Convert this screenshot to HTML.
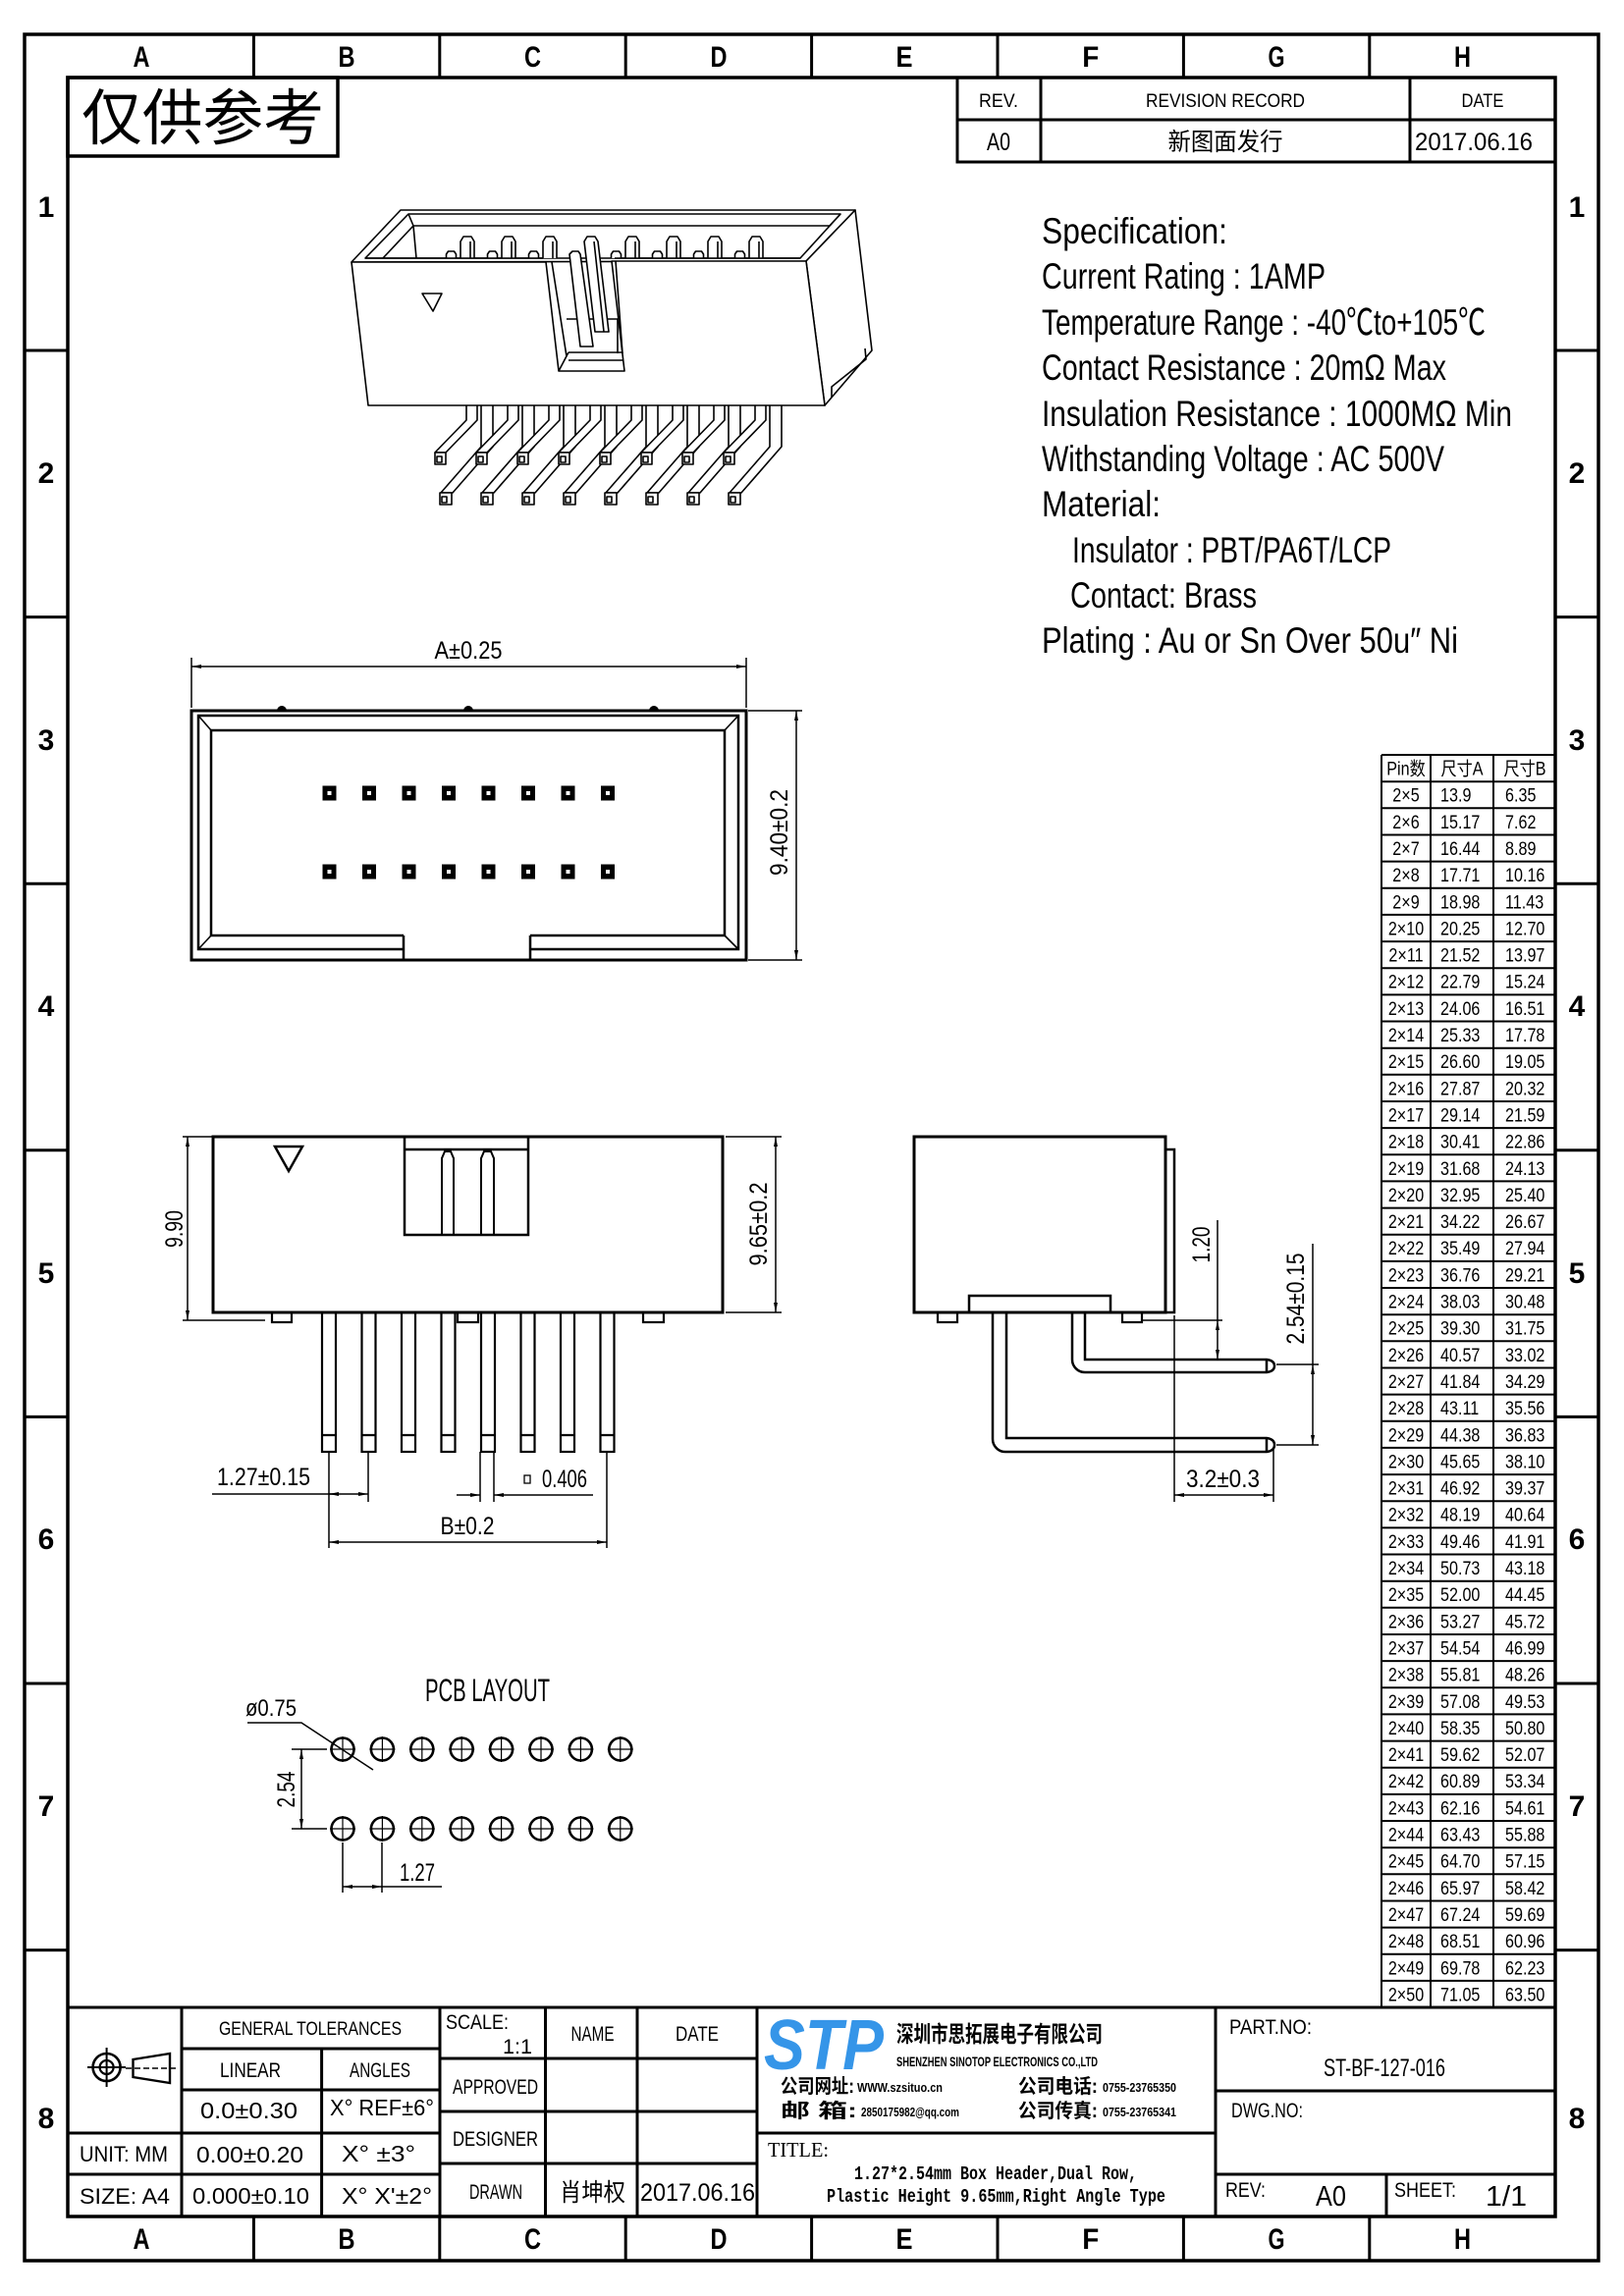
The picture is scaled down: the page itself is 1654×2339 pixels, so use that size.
<!DOCTYPE html>
<html><head><meta charset="utf-8"><style>
html,body{margin:0;padding:0;background:#fff;}
svg{display:block;}
text{font-family:"Liberation Sans","Noto Sans CJK SC",sans-serif;fill:#000;}
.cj{font-family:"Liberation Sans","Noto Sans CJK SC",sans-serif;}
.sf{font-family:"Liberation Serif","Noto Serif CJK SC",serif;}
.mo{font-family:"Liberation Mono",monospace;font-weight:bold;}
</style></head><body>
<svg width="1654" height="2339" viewBox="0 0 1654 2339" xmlns="http://www.w3.org/2000/svg">
<defs>
<marker id="ar" viewBox="0 0 10 4" refX="10" refY="2" markerWidth="10" markerHeight="4" orient="auto-start-reverse" markerUnits="userSpaceOnUse"><path d="M0,0 L10,2 L0,4 z" fill="#000"/></marker>
</defs>
<rect width="1654" height="2339" fill="#fff"/>

<!-- FRAME -->
<g fill="none" stroke="#000">
<rect x="25" y="35" width="1603" height="2268" stroke-width="3.5"/>
<rect x="69" y="79" width="1515" height="2179" stroke-width="3.5"/>
<path stroke-width="3" d="M258.4,35V79M447.8,35V79M637.2,35V79M826.6,35V79M1016,35V79M1205.4,35V79M1394.8,35V79
M258.4,2258V2303M447.8,2258V2303M637.2,2258V2303M826.6,2258V2303M1016,2258V2303M1205.4,2258V2303M1394.8,2258V2303
M25,357H69M25,628.6H69M25,900.2H69M25,1171.8H69M25,1443.4H69M25,1715H69M25,1986.6H69
M1584,357H1628M1584,628.6H1628M1584,900.2H1628M1584,1171.8H1628M1584,1443.4H1628M1584,1715H1628M1584,1986.6H1628"/>
</g>
<g font-size="30" font-weight="bold" text-anchor="middle">
<text x="144" y="68" textLength="17" lengthAdjust="spacingAndGlyphs">A</text>
<text x="353" y="68" textLength="17" lengthAdjust="spacingAndGlyphs">B</text>
<text x="542.5" y="68" textLength="17" lengthAdjust="spacingAndGlyphs">C</text>
<text x="732" y="68" textLength="17" lengthAdjust="spacingAndGlyphs">D</text>
<text x="921" y="68" textLength="17" lengthAdjust="spacingAndGlyphs">E</text>
<text x="1110.7" y="68" textLength="17" lengthAdjust="spacingAndGlyphs">F</text>
<text x="1300" y="68" textLength="17" lengthAdjust="spacingAndGlyphs">G</text>
<text x="1489.5" y="68" textLength="17" lengthAdjust="spacingAndGlyphs">H</text>
<text x="144" y="2291" textLength="17" lengthAdjust="spacingAndGlyphs">A</text>
<text x="353" y="2291" textLength="17" lengthAdjust="spacingAndGlyphs">B</text>
<text x="542.5" y="2291" textLength="17" lengthAdjust="spacingAndGlyphs">C</text>
<text x="732" y="2291" textLength="17" lengthAdjust="spacingAndGlyphs">D</text>
<text x="921" y="2291" textLength="17" lengthAdjust="spacingAndGlyphs">E</text>
<text x="1110.7" y="2291" textLength="17" lengthAdjust="spacingAndGlyphs">F</text>
<text x="1300" y="2291" textLength="17" lengthAdjust="spacingAndGlyphs">G</text>
<text x="1489.5" y="2291" textLength="17" lengthAdjust="spacingAndGlyphs">H</text>
<text x="47" y="221">1</text><text x="47" y="492">2</text><text x="47" y="764">3</text><text x="47" y="1035">4</text>
<text x="47" y="1307">5</text><text x="47" y="1578">6</text><text x="47" y="1850">7</text><text x="47" y="2168">8</text>
<text x="1606" y="221">1</text><text x="1606" y="492">2</text><text x="1606" y="764">3</text><text x="1606" y="1035">4</text>
<text x="1606" y="1307">5</text><text x="1606" y="1578">6</text><text x="1606" y="1850">7</text><text x="1606" y="2168">8</text>
</g>

<!-- 仅供参考 -->
<rect x="69" y="79" width="275" height="80" fill="none" stroke="#000" stroke-width="3.5"/>
<text x="83" y="142" font-size="62" textLength="247" lengthAdjust="spacingAndGlyphs">仅供参考</text>

<!-- REVISION TABLE -->
<g fill="none" stroke="#000" stroke-width="3">
<rect x="975" y="79" width="609" height="86"/>
<path d="M975,122H1584M1060,79V165M1436,79V165"/>
</g>
<g text-anchor="middle" class="sf">
<text x="1017" y="109" font-size="19" textLength="40" lengthAdjust="spacingAndGlyphs">REV.</text>
<text x="1248" y="109" font-size="19" textLength="162" lengthAdjust="spacingAndGlyphs">REVISION RECORD</text>
<text x="1510" y="109" font-size="19" textLength="43" lengthAdjust="spacingAndGlyphs">DATE</text>
<text x="1017" y="153" font-size="25" textLength="24" lengthAdjust="spacingAndGlyphs">A0</text>
<text x="1248" y="153" font-size="25" textLength="117" lengthAdjust="spacingAndGlyphs">新图面发行</text>
<text x="1501" y="153" font-size="25" textLength="120" lengthAdjust="spacingAndGlyphs">2017.06.16</text>
</g>

<!-- SPEC TEXT -->
<g font-size="37" class="sf">
<text x="1061" y="248" textLength="189" lengthAdjust="spacingAndGlyphs">Specification:</text>
<text x="1061" y="294" textLength="289" lengthAdjust="spacingAndGlyphs">Current Rating : 1AMP</text>
<text x="1061" y="341" textLength="452" lengthAdjust="spacingAndGlyphs">Temperature Range : -40℃to+105℃</text>
<text x="1061" y="387" textLength="412" lengthAdjust="spacingAndGlyphs">Contact Resistance : 20mΩ Max</text>
<text x="1061" y="434" textLength="479" lengthAdjust="spacingAndGlyphs">Insulation Resistance : 1000MΩ Min</text>
<text x="1061" y="480" textLength="410" lengthAdjust="spacingAndGlyphs">Withstanding Voltage : AC 500V</text>
<text x="1061" y="526" textLength="121" lengthAdjust="spacingAndGlyphs">Material:</text>
<text x="1092" y="573" textLength="325" lengthAdjust="spacingAndGlyphs">Insulator : PBT/PA6T/LCP</text>
<text x="1090" y="619" textLength="190" lengthAdjust="spacingAndGlyphs">Contact: Brass</text>
<text x="1061" y="665" textLength="424" lengthAdjust="spacingAndGlyphs">Plating : Au or Sn Over 50u″ Ni</text>
</g>

<!-- 3D VIEW -->
<g fill="#fff" stroke="#000" stroke-width="1.6" stroke-linejoin="round">
<!-- legs lower row -->
<g>
<path d="M490,413V455L449,502H461L502,455V413"/><rect x="448" y="502" width="12" height="12"/><rect x="450" y="506" width="5" height="6"/>
<path d="M532,413V455L491,502H503L544,455V413"/><rect x="490" y="502" width="12" height="12"/><rect x="492" y="506" width="5" height="6"/>
<path d="M574,413V455L533,502H545L586,455V413"/><rect x="532" y="502" width="12" height="12"/><rect x="534" y="506" width="5" height="6"/>
<path d="M616,413V455L575,502H587L628,455V413"/><rect x="574" y="502" width="12" height="12"/><rect x="576" y="506" width="5" height="6"/>
<path d="M658,413V455L617,502H629L670,455V413"/><rect x="616" y="502" width="12" height="12"/><rect x="618" y="506" width="5" height="6"/>
<path d="M700,413V455L659,502H671L712,455V413"/><rect x="658" y="502" width="12" height="12"/><rect x="660" y="506" width="5" height="6"/>
<path d="M742,413V455L701,502H713L754,455V413"/><rect x="700" y="502" width="12" height="12"/><rect x="702" y="506" width="5" height="6"/>
<path d="M784,413V455L743,502H755L796,455V413"/><rect x="742" y="502" width="12" height="12"/><rect x="744" y="506" width="5" height="6"/>
</g>
<!-- legs upper row -->
<g>
<path d="M475,413V428L443,461H454L486,428V413"/><rect x="443" y="461" width="11" height="12"/><rect x="445" y="465" width="5" height="6"/>
<path d="M517,413V428L485,461H496L528,428V413"/><rect x="485" y="461" width="11" height="12"/><rect x="487" y="465" width="5" height="6"/>
<path d="M559,413V428L527,461H538L570,428V413"/><rect x="527" y="461" width="11" height="12"/><rect x="529" y="465" width="5" height="6"/>
<path d="M601,413V428L569,461H580L612,428V413"/><rect x="569" y="461" width="11" height="12"/><rect x="571" y="465" width="5" height="6"/>
<path d="M643,413V428L611,461H622L654,428V413"/><rect x="611" y="461" width="11" height="12"/><rect x="613" y="465" width="5" height="6"/>
<path d="M685,413V428L653,461H664L696,428V413"/><rect x="653" y="461" width="11" height="12"/><rect x="655" y="465" width="5" height="6"/>
<path d="M727,413V428L695,461H706L738,428V413"/><rect x="695" y="461" width="11" height="12"/><rect x="697" y="465" width="5" height="6"/>
<path d="M769,413V428L737,461H748L780,428V413"/><rect x="737" y="461" width="11" height="12"/><rect x="739" y="465" width="5" height="6"/>
</g>
<!-- body -->
<polygon points="358,267 408,214 871,214 821,266"/>
<polygon points="821,266 871,214 888,357 840,413"/>
<polygon points="372,263 416,218 856,218 815,263"/>
<path fill="none" d="M421,230H845M416,218L421,230L424,263M390,263L421,230M845,230L856,218"/>
<!-- pins back row -->
<path d="M469,263V246L472,241H480L483,246V263"/>
<path d="M511,263V246L514,241H522L525,246V263"/>
<path d="M553,263V246L556,241H564L567,246V263"/>
<path d="M637,263V246L640,241H648L651,246V263"/>
<path d="M679,263V246L682,241H690L693,246V263"/>
<path d="M721,263V246L724,241H732L735,246V263"/>
<path d="M763,263V246L766,241H774L777,246V263"/>
<path fill="none" d="M479,246V263M521,246V263M563,246V263M647,246V263M689,246V263M731,246V263M773,246V263"/>
<!-- pins front row -->
<path d="M454.5,263V259L456.5,256H462.5L464.5,259V263"/>
<path d="M496.5,263V259L498.5,256H504.5L506.5,259V263"/>
<path d="M538.5,263V259L540.5,256H546.5L548.5,259V263"/>
<path d="M622.5,263V259L624.5,256H630.5L632.5,259V263"/>
<path d="M664.5,263V259L666.5,256H672.5L674.5,259V263"/>
<path d="M706.5,263V259L708.5,256H714.5L716.5,259V263"/>
<path d="M748.5,263V259L750.5,256H756.5L758.5,259V263"/>
<!-- front face with notch -->
<path d="M358,267H556L569,378H636L623,266H821L840,413H375Z"/>
<path fill="none" d="M372,263H553M626,263H815"/>
<!-- notch interior -->
<path fill="none" d="M562,267L577,363M577,325H629V360M579,359H634M579,367H634M569,378L579,359M627,266L634,360"/>
<!-- notch pins -->
<path d="M595,246L598,241H606L609,246L620,338H606Z"/>
<path fill="none" d="M605,246L615,338"/>
<path d="M580,259L583,256H589L591,259L604,353H591Z"/>
<!-- side slot -->
<path fill="none" d="M881,355L882,366L847,394V405"/>
<!-- triangle -->
<polygon points="430,299 450,299 441,317" fill="none"/>
</g>

<!-- FRONT VIEW -->
<g fill="none" stroke="#000">
<rect x="195" y="724" width="565" height="254" stroke-width="3"/>
<path stroke-width="2.5" d="M411,967H202V729H752V967H540M411,953H215V744H738V953H540M411,953V978M540,953V978"/>
<path stroke-width="1.6" d="M202,729L215,744M752,729L738,744M202,967L215,953M752,967L738,953"/>
<path stroke-width="1.5" d="M195,721V670M760,721V670M762,724H817M762,978H817"/>
<line x1="195" y1="679" x2="760" y2="679" stroke-width="1.5" marker-start="url(#ar)" marker-end="url(#ar)"/>
<line x1="811" y1="724" x2="811" y2="978" stroke-width="1.5" marker-start="url(#ar)" marker-end="url(#ar)"/>
</g>
<g fill="#000">
<path d="M282,724A5,5 0 0 1 292,724Z M472,724A5,5 0 0 1 482,724Z M661,724A5,5 0 0 1 671,724Z"/>
<rect x="328.5" y="800.5" width="14" height="15"/><rect x="369" y="800.5" width="14" height="15"/><rect x="409.5" y="800.5" width="14" height="15"/><rect x="450" y="800.5" width="14" height="15"/>
<rect x="490.5" y="800.5" width="14" height="15"/><rect x="531" y="800.5" width="14" height="15"/><rect x="571.5" y="800.5" width="14" height="15"/><rect x="612" y="800.5" width="14" height="15"/>
<rect x="328.5" y="880.5" width="14" height="15"/><rect x="369" y="880.5" width="14" height="15"/><rect x="409.5" y="880.5" width="14" height="15"/><rect x="450" y="880.5" width="14" height="15"/>
<rect x="490.5" y="880.5" width="14" height="15"/><rect x="531" y="880.5" width="14" height="15"/><rect x="571.5" y="880.5" width="14" height="15"/><rect x="612" y="880.5" width="14" height="15"/>
</g>
<g fill="#fff">
<rect x="333.5" y="806" width="4" height="4"/><rect x="374" y="806" width="4" height="4"/><rect x="414.5" y="806" width="4" height="4"/><rect x="455" y="806" width="4" height="4"/>
<rect x="495.5" y="806" width="4" height="4"/><rect x="536" y="806" width="4" height="4"/><rect x="576.5" y="806" width="4" height="4"/><rect x="617" y="806" width="4" height="4"/>
<rect x="333.5" y="886" width="4" height="4"/><rect x="374" y="886" width="4" height="4"/><rect x="414.5" y="886" width="4" height="4"/><rect x="455" y="886" width="4" height="4"/>
<rect x="495.5" y="886" width="4" height="4"/><rect x="536" y="886" width="4" height="4"/><rect x="576.5" y="886" width="4" height="4"/><rect x="617" y="886" width="4" height="4"/>
</g>
<g class="sf" font-size="25">
<text x="477" y="671" text-anchor="middle" textLength="69" lengthAdjust="spacingAndGlyphs">A±0.25</text>
<text transform="translate(802,848) rotate(-90)" text-anchor="middle" textLength="88" lengthAdjust="spacingAndGlyphs">9.40±0.2</text>
</g>

<!-- PIN SIDE VIEW -->
<g fill="none" stroke="#000">
<rect x="217" y="1158" width="519" height="179" stroke-width="3"/>
<path stroke-width="2.5" d="M412,1158V1258H538V1158M412,1171H538"/>
<path stroke-width="2" d="M450,1258V1180L453,1173H459L462,1180V1258M490,1258V1180L493,1173H500L503,1180V1258"/>
<polygon stroke-width="2.5" points="280,1168 308,1168 294,1193"/>
<g stroke-width="2.2">
<rect x="277" y="1337" width="20" height="10"/><rect x="466" y="1337" width="21" height="10"/><rect x="655" y="1337" width="21" height="10"/>
<rect x="328" y="1337" width="14" height="142"/><rect x="368.5" y="1337" width="14" height="142"/><rect x="409" y="1337" width="14" height="142"/><rect x="449.5" y="1337" width="14" height="142"/>
<rect x="490" y="1337" width="14" height="142"/><rect x="530.5" y="1337" width="14" height="142"/><rect x="571" y="1337" width="14" height="142"/><rect x="611.5" y="1337" width="14" height="142"/>
<path d="M328,1462H342M368.5,1462H382.5M409,1462H423M449.5,1462H463.5M490,1462H504M530.5,1462H544.5M571,1462H585M611.5,1462H625.5"/>
</g>
<g stroke-width="1.5">
<path d="M186,1158H217M186,1345H270M739,1158H796M739,1337H796M335,1479V1577M375,1479V1530M489,1479V1530M503,1479V1530M618,1479V1577M216,1522H345"/>
<line x1="191" y1="1158" x2="191" y2="1345" marker-start="url(#ar)" marker-end="url(#ar)"/>
<line x1="790" y1="1158" x2="790" y2="1337" marker-start="url(#ar)" marker-end="url(#ar)"/>
<line x1="355" y1="1522" x2="335" y2="1522" marker-end="url(#ar)"/>
<line x1="355" y1="1522" x2="375" y2="1522" marker-end="url(#ar)"/>
<line x1="465" y1="1523" x2="489" y2="1523" marker-end="url(#ar)"/>
<line x1="604" y1="1523" x2="503" y2="1523" marker-end="url(#ar)"/>
<line x1="335" y1="1571" x2="618" y2="1571" marker-start="url(#ar)" marker-end="url(#ar)"/>
</g>
<rect x="534" y="1503" width="6" height="8" stroke-width="1.3"/>
</g>
<g class="sf" font-size="25">
<text transform="translate(186,1252) rotate(-90)" text-anchor="middle" textLength="38" lengthAdjust="spacingAndGlyphs">9.90</text>
<text transform="translate(781,1247) rotate(-90)" text-anchor="middle" textLength="85" lengthAdjust="spacingAndGlyphs">9.65±0.2</text>
<text x="221" y="1513" textLength="95" lengthAdjust="spacingAndGlyphs">1.27±0.15</text>
<text x="552" y="1515" textLength="46" lengthAdjust="spacingAndGlyphs">0.406</text>
<text x="476" y="1563" text-anchor="middle" textLength="55" lengthAdjust="spacingAndGlyphs">B±0.2</text>
</g>

<!-- RIGHT ANGLE VIEW -->
<g fill="none" stroke="#000">
<rect x="931" y="1158" width="256" height="179" stroke-width="3"/>
<path stroke-width="2.5" d="M1187,1171H1196V1337H1187"/>
<rect x="987" y="1320" width="144" height="17" stroke-width="2.5"/>
<rect x="955" y="1337" width="20" height="10" stroke-width="2.2"/>
<rect x="1143" y="1337" width="20" height="10" stroke-width="2.2"/>
<path stroke-width="2.5" d="M1092,1337V1385A13,13 0 0 0 1105,1398H1290Q1298,1397 1298,1391.5Q1298,1386 1290,1385H1105V1337M1290,1385V1398"/>
<path stroke-width="2.5" d="M1011,1337V1466A13,13 0 0 0 1024,1479H1290Q1298,1478 1298,1472Q1298,1466 1290,1465H1025V1337M1290,1465V1479"/>
<g stroke-width="1.5">
<path d="M1196,1340V1530M1163,1345H1245M1240,1243V1345M1300,1390H1343M1300,1472H1343M1337,1267V1390M1297,1477V1530"/>
<line x1="1240" y1="1365" x2="1240" y2="1345" marker-end="url(#ar)"/>
<line x1="1240" y1="1365" x2="1240" y2="1385" marker-end="url(#ar)"/>
<line x1="1337" y1="1390" x2="1337" y2="1472" marker-start="url(#ar)" marker-end="url(#ar)"/>
<line x1="1196" y1="1523" x2="1297" y2="1523" marker-start="url(#ar)" marker-end="url(#ar)"/>
</g>
</g>
<g class="sf" font-size="25">
<text transform="translate(1232,1268) rotate(-90)" text-anchor="middle" textLength="37" lengthAdjust="spacingAndGlyphs">1.20</text>
<text transform="translate(1328,1323) rotate(-90)" text-anchor="middle" textLength="93" lengthAdjust="spacingAndGlyphs">2.54±0.15</text>
<text x="1208" y="1515" textLength="75" lengthAdjust="spacingAndGlyphs">3.2±0.3</text>
</g>

<!-- PCB LAYOUT -->
<g class="sf">
<text x="433" y="1733" font-size="32" textLength="127" lengthAdjust="spacingAndGlyphs">PCB LAYOUT</text>
<text x="250" y="1748" font-size="24" textLength="52" lengthAdjust="spacingAndGlyphs">ø0.75</text>
<text transform="translate(300,1823) rotate(-90)" text-anchor="middle" font-size="25" textLength="37" lengthAdjust="spacingAndGlyphs">2.54</text>
<text x="407" y="1916" font-size="25" textLength="36" lengthAdjust="spacingAndGlyphs">1.27</text>
</g>
<g fill="none" stroke="#000">
<g stroke-width="2.6">
<circle cx="349" cy="1782" r="11.5"/><circle cx="389.4" cy="1782" r="11.5"/><circle cx="429.8" cy="1782" r="11.5"/><circle cx="470.2" cy="1782" r="11.5"/>
<circle cx="510.6" cy="1782" r="11.5"/><circle cx="551" cy="1782" r="11.5"/><circle cx="591.4" cy="1782" r="11.5"/><circle cx="631.8" cy="1782" r="11.5"/>
<circle cx="349" cy="1863" r="11.5"/><circle cx="389.4" cy="1863" r="11.5"/><circle cx="429.8" cy="1863" r="11.5"/><circle cx="470.2" cy="1863" r="11.5"/>
<circle cx="510.6" cy="1863" r="11.5"/><circle cx="551" cy="1863" r="11.5"/><circle cx="591.4" cy="1863" r="11.5"/><circle cx="631.8" cy="1863" r="11.5"/>
</g>
<path stroke-width="1.2" d="M336,1782H362M349,1769V1795M376.4,1782H402.4M389.4,1769V1795M416.8,1782H442.8M429.8,1769V1795M457.2,1782H483.2M470.2,1769V1795M497.6,1782H523.6M510.6,1769V1795M538,1782H564M551,1769V1795M578.4,1782H604.4M591.4,1769V1795M618.8,1782H644.8M631.8,1769V1795
M336,1863H362M349,1850V1876M376.4,1863H402.4M389.4,1850V1876M416.8,1863H442.8M429.8,1850V1876M457.2,1863H483.2M470.2,1850V1876M497.6,1863H523.6M510.6,1850V1876M538,1863H564M551,1850V1876M578.4,1863H604.4M591.4,1850V1876M618.8,1863H644.8M631.8,1850V1876"/>
<g stroke-width="1.5">
<path d="M252,1755H307L380,1803M297,1782H333M297,1863H333M349,1877V1928M389,1877V1928M389,1922H450"/>
<line x1="307" y1="1782" x2="307" y2="1863" marker-start="url(#ar)" marker-end="url(#ar)"/>
<line x1="369" y1="1922" x2="349" y2="1922" marker-end="url(#ar)"/>
<line x1="369" y1="1922" x2="389" y2="1922" marker-end="url(#ar)"/>
</g>
</g>

<!-- RIGHT TABLE -->
<g fill="none" stroke="#000" stroke-width="2">
<path d="M1407,769H1584M1407,769V2045M1457,769V2045M1521,769V2045
M1407,796.2H1584M1407,823.3H1584M1407,850.5H1584M1407,877.6H1584M1407,904.8H1584M1407,931.9H1584M1407,959.1H1584M1407,986.2H1584
M1407,1013.4H1584M1407,1040.5H1584M1407,1067.7H1584M1407,1094.8H1584M1407,1122H1584M1407,1149.1H1584M1407,1176.3H1584M1407,1203.4H1584
M1407,1230.6H1584M1407,1257.7H1584M1407,1284.9H1584M1407,1312H1584M1407,1339.2H1584M1407,1366.3H1584M1407,1393.5H1584M1407,1420.6H1584
M1407,1447.8H1584M1407,1474.9H1584M1407,1502.1H1584M1407,1529.2H1584M1407,1556.4H1584M1407,1583.5H1584M1407,1610.7H1584M1407,1637.8H1584
M1407,1665H1584M1407,1692.1H1584M1407,1719.3H1584M1407,1746.4H1584M1407,1773.6H1584M1407,1800.7H1584M1407,1827.9H1584M1407,1855H1584
M1407,1882.2H1584M1407,1909.3H1584M1407,1936.5H1584M1407,1963.6H1584M1407,1990.8H1584M1407,2017.9H1584"/>
</g>
<g font-size="19">
<g transform="translate(1432,0) scale(0.85,1)" text-anchor="middle">
<text y="789.5">Pin数</text>
<text y="816.7">2×5</text><text y="843.8">2×6</text><text y="871">2×7</text><text y="898.1">2×8</text><text y="925.3">2×9</text>
<text y="952.4">2×10</text><text y="979.6">2×11</text><text y="1006.7">2×12</text><text y="1033.9">2×13</text><text y="1061">2×14</text>
<text y="1088.2">2×15</text><text y="1115.3">2×16</text><text y="1142.5">2×17</text><text y="1169.6">2×18</text><text y="1196.8">2×19</text>
<text y="1223.9">2×20</text><text y="1251.1">2×21</text><text y="1278.2">2×22</text><text y="1305.4">2×23</text><text y="1332.5">2×24</text>
<text y="1359.7">2×25</text><text y="1386.8">2×26</text><text y="1414">2×27</text><text y="1441.1">2×28</text><text y="1468.3">2×29</text>
<text y="1495.4">2×30</text><text y="1522.6">2×31</text><text y="1549.7">2×32</text><text y="1576.9">2×33</text><text y="1604">2×34</text>
<text y="1631.2">2×35</text><text y="1658.3">2×36</text><text y="1685.5">2×37</text><text y="1712.6">2×38</text><text y="1739.8">2×39</text>
<text y="1766.9">2×40</text><text y="1794.1">2×41</text><text y="1821.2">2×42</text><text y="1848.4">2×43</text><text y="1875.5">2×44</text>
<text y="1902.7">2×45</text><text y="1929.8">2×46</text><text y="1957">2×47</text><text y="1984.1">2×48</text><text y="2011.3">2×49</text>
<text y="2038.4">2×50</text>
</g>
<g transform="translate(1489,0) scale(0.85,1)" text-anchor="middle"><text y="789.5">尺寸A</text></g>
<g transform="translate(1553,0) scale(0.85,1)" text-anchor="middle"><text y="789.5">尺寸B</text></g>
<g transform="translate(1467,0) scale(0.85,1)">
<text y="816.7">13.9</text><text y="843.8">15.17</text><text y="871">16.44</text><text y="898.1">17.71</text><text y="925.3">18.98</text>
<text y="952.4">20.25</text><text y="979.6">21.52</text><text y="1006.7">22.79</text><text y="1033.9">24.06</text><text y="1061">25.33</text>
<text y="1088.2">26.60</text><text y="1115.3">27.87</text><text y="1142.5">29.14</text><text y="1169.6">30.41</text><text y="1196.8">31.68</text>
<text y="1223.9">32.95</text><text y="1251.1">34.22</text><text y="1278.2">35.49</text><text y="1305.4">36.76</text><text y="1332.5">38.03</text>
<text y="1359.7">39.30</text><text y="1386.8">40.57</text><text y="1414">41.84</text><text y="1441.1">43.11</text><text y="1468.3">44.38</text>
<text y="1495.4">45.65</text><text y="1522.6">46.92</text><text y="1549.7">48.19</text><text y="1576.9">49.46</text><text y="1604">50.73</text>
<text y="1631.2">52.00</text><text y="1658.3">53.27</text><text y="1685.5">54.54</text><text y="1712.6">55.81</text><text y="1739.8">57.08</text>
<text y="1766.9">58.35</text><text y="1794.1">59.62</text><text y="1821.2">60.89</text><text y="1848.4">62.16</text><text y="1875.5">63.43</text>
<text y="1902.7">64.70</text><text y="1929.8">65.97</text><text y="1957">67.24</text><text y="1984.1">68.51</text><text y="2011.3">69.78</text>
<text y="2038.4">71.05</text>
</g>
<g transform="translate(1533,0) scale(0.85,1)">
<text y="816.7">6.35</text><text y="843.8">7.62</text><text y="871">8.89</text><text y="898.1">10.16</text><text y="925.3">11.43</text>
<text y="952.4">12.70</text><text y="979.6">13.97</text><text y="1006.7">15.24</text><text y="1033.9">16.51</text><text y="1061">17.78</text>
<text y="1088.2">19.05</text><text y="1115.3">20.32</text><text y="1142.5">21.59</text><text y="1169.6">22.86</text><text y="1196.8">24.13</text>
<text y="1223.9">25.40</text><text y="1251.1">26.67</text><text y="1278.2">27.94</text><text y="1305.4">29.21</text><text y="1332.5">30.48</text>
<text y="1359.7">31.75</text><text y="1386.8">33.02</text><text y="1414">34.29</text><text y="1441.1">35.56</text><text y="1468.3">36.83</text>
<text y="1495.4">38.10</text><text y="1522.6">39.37</text><text y="1549.7">40.64</text><text y="1576.9">41.91</text><text y="1604">43.18</text>
<text y="1631.2">44.45</text><text y="1658.3">45.72</text><text y="1685.5">46.99</text><text y="1712.6">48.26</text><text y="1739.8">49.53</text>
<text y="1766.9">50.80</text><text y="1794.1">52.07</text><text y="1821.2">53.34</text><text y="1848.4">54.61</text><text y="1875.5">55.88</text>
<text y="1902.7">57.15</text><text y="1929.8">58.42</text><text y="1957">59.69</text><text y="1984.1">60.96</text><text y="2011.3">62.23</text>
<text y="2038.4">63.50</text>
</g>
</g>

<!-- TITLE BLOCK -->
<g fill="none" stroke="#000" stroke-width="3">
<path d="M69,2045H1584M185,2045V2258M448,2045V2258M555.5,2045V2258M649,2045V2258M771,2045V2258M1238,2045V2258M1412,2215V2258
M185,2087H448M185,2129H448M327.6,2087V2258M69,2173H448M69,2215H448
M448,2097H771M448,2151H771M448,2204H771M771,2173H1238M1238,2130H1584M1238,2215H1584"/>
</g>
<g fill="none" stroke="#000">
<circle cx="108.6" cy="2106" r="14" stroke-width="2.6"/>
<circle cx="108.6" cy="2106" r="7" stroke-width="2.2"/>
<path stroke-width="2" d="M89,2106H128M108.6,2086V2126"/>
<polygon stroke-width="2.4" points="135.5,2098 173,2092 173,2122 135.5,2116"/>
<path stroke-width="1.5" stroke-dasharray="6,3" d="M128,2107H179"/>
</g>
<g class="sf">
<text x="223" y="2073" font-size="19" textLength="186" lengthAdjust="spacingAndGlyphs">GENERAL TOLERANCES</text>
<text x="224" y="2116" font-size="21" textLength="62" lengthAdjust="spacingAndGlyphs">LINEAR</text>
<text x="356" y="2116" font-size="21" textLength="62" lengthAdjust="spacingAndGlyphs">ANGLES</text>
<text x="204" y="2158" font-size="23" textLength="99" lengthAdjust="spacingAndGlyphs">0.0±0.30</text>
<text x="336" y="2155" font-size="23" textLength="106" lengthAdjust="spacingAndGlyphs">X° REF±6°</text>
<text x="81" y="2202" font-size="22" textLength="90" lengthAdjust="spacingAndGlyphs">UNIT: MM</text>
<text x="200" y="2203" font-size="23" textLength="109" lengthAdjust="spacingAndGlyphs">0.00±0.20</text>
<text x="348" y="2202" font-size="23" textLength="75" lengthAdjust="spacingAndGlyphs">X° ±3°</text>
<text x="81" y="2245" font-size="22" textLength="92" lengthAdjust="spacingAndGlyphs">SIZE: A4</text>
<text x="196" y="2245" font-size="23" textLength="119" lengthAdjust="spacingAndGlyphs">0.000±0.10</text>
<text x="348" y="2245" font-size="23" textLength="92" lengthAdjust="spacingAndGlyphs">X° X'±2°</text>
<text x="454" y="2067" font-size="21" textLength="64" lengthAdjust="spacingAndGlyphs">SCALE:</text>
<text x="512" y="2092" font-size="21" textLength="30" lengthAdjust="spacingAndGlyphs">1:1</text>
<text x="581.5" y="2079" font-size="21" textLength="44" lengthAdjust="spacingAndGlyphs">NAME</text>
<text x="688" y="2079" font-size="21" textLength="44" lengthAdjust="spacingAndGlyphs">DATE</text>
<text x="461" y="2133" font-size="21" textLength="87" lengthAdjust="spacingAndGlyphs">APPROVED</text>
<text x="461" y="2186" font-size="21" textLength="87" lengthAdjust="spacingAndGlyphs">DESIGNER</text>
<text x="478" y="2240" font-size="21" textLength="54" lengthAdjust="spacingAndGlyphs">DRAWN</text>
<text x="570" y="2242" font-size="25" textLength="67" lengthAdjust="spacingAndGlyphs">肖坤权</text>
<text x="652" y="2242" font-size="25" textLength="117" lengthAdjust="spacingAndGlyphs">2017.06.16</text>
</g>
<!-- company -->
<text x="778" y="2108" font-size="72" font-weight="bold" font-style="italic" fill="#3595e8" style="fill:#3595e8" textLength="122" lengthAdjust="spacingAndGlyphs">STP</text>
<text x="913" y="2080" font-size="23" font-weight="bold" textLength="210" lengthAdjust="spacingAndGlyphs">深圳市思拓展电子有限公司</text>
<text x="913" y="2105" font-size="14" font-weight="bold" textLength="205" lengthAdjust="spacingAndGlyphs">SHENZHEN SINOTOP ELECTRONICS CO.,LTD</text>
<g font-weight="bold">
<text x="795" y="2132" font-size="20" textLength="75" lengthAdjust="spacingAndGlyphs">公司网址:</text>
<text x="873" y="2131" font-size="13" textLength="87" lengthAdjust="spacingAndGlyphs">WWW.szsituo.cn</text>
<text x="1037" y="2132" font-size="20" textLength="81" lengthAdjust="spacingAndGlyphs">公司电话:</text>
<text x="1123" y="2131" font-size="13" textLength="75" lengthAdjust="spacingAndGlyphs">0755-23765350</text>
<text x="795" y="2157" font-size="20" textLength="78" lengthAdjust="spacingAndGlyphs">邮    箱:</text>
<text x="877" y="2156" font-size="13" textLength="100" lengthAdjust="spacingAndGlyphs">2850175982@qq.com</text>
<text x="1037" y="2157" font-size="20" textLength="81" lengthAdjust="spacingAndGlyphs">公司传真:</text>
<text x="1123" y="2156" font-size="13" textLength="75" lengthAdjust="spacingAndGlyphs">0755-23765341</text>
</g>
<text x="782" y="2197" font-size="21" class="sf" textLength="62" lengthAdjust="spacingAndGlyphs">TITLE:</text>
<text x="870" y="2220" font-size="19" class="mo" textLength="288" lengthAdjust="spacingAndGlyphs">1.27*2.54mm Box Header,Dual Row,</text>
<text x="842" y="2243" font-size="19" class="mo" textLength="345" lengthAdjust="spacingAndGlyphs">Plastic Height 9.65mm,Right Angle Type</text>
<g class="sf">
<text x="1252" y="2072" font-size="21" textLength="84" lengthAdjust="spacingAndGlyphs">PART.NO:</text>
<text x="1348" y="2115" font-size="25" textLength="124" lengthAdjust="spacingAndGlyphs">ST-BF-127-016</text>
<text x="1254" y="2157" font-size="21" textLength="73" lengthAdjust="spacingAndGlyphs">DWG.NO:</text>
<text x="1248" y="2238" font-size="21" textLength="41" lengthAdjust="spacingAndGlyphs">REV:</text>
<text x="1340" y="2247" font-size="29" textLength="31" lengthAdjust="spacingAndGlyphs">A0</text>
<text x="1420" y="2238" font-size="21" textLength="63" lengthAdjust="spacingAndGlyphs">SHEET:</text>
<text x="1513" y="2247" font-size="29" textLength="42" lengthAdjust="spacingAndGlyphs">1/1</text>
</g>
</svg>
</body></html>
